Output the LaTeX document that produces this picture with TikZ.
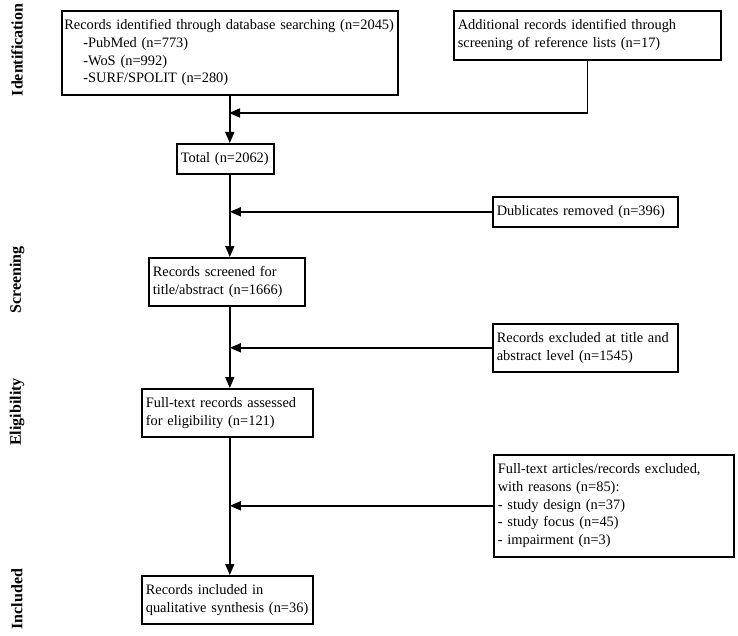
\documentclass[tikz,border=0pt]{standalone}
\usepackage{fontspec}
\setmainfont{Liberation Serif}
\usetikzlibrary{arrows.meta, positioning}

\begin{document}
\begin{tikzpicture}[x=1pt,y=-1pt,
  box/.style={draw,line width=1.6pt,anchor=north west,align=left,inner sep=4pt,font=\fontsize{14.4}{17.7}\selectfont},
  phase/.style={rotate=90,font=\fontsize{16}{18}\selectfont\bfseries},
  flow/.style={line width=1.6pt,-{Triangle[length=11pt,width=9pt]}}]
\useasboundingbox (0,0) rectangle (738,636);
\node[box,text width=331pt,inner xsep=2.5pt,minimum height=84pt] (db) at (61,10)
  {Records identified through database searching (n=2045)\\
   \hspace*{19pt}-PubMed (n=773)\\
   \hspace*{19pt}-WoS (n=992)\\
   \hspace*{19pt}-SURF/SPOLIT (n=280)};
\node[box,text width=259pt,minimum height=49pt] (add) at (453,10)
  {Additional records identified through\\ screening of reference lists (n=17)};
\node[box,text width=89pt,minimum height=30pt] (total) at (176,143) {Total (n=2062)};
\node[box,text width=177pt,minimum height=30pt] (dup) at (492,196) {Dublicates removed (n=396)};
\node[box,text width=148pt,minimum height=48pt] (scr) at (148,257)
  {Records screened for\\ title/abstract (n=1666)};
\node[box,text width=177pt,minimum height=48pt] (exc) at (492,323)
  {Records excluded at title and\\ abstract level (n=1545)};
\node[box,text width=163pt,minimum height=48pt] (ft) at (141,388)
  {Full-text records assessed\\ for eligibility (n=121)};
\node[box,text width=232pt,minimum height=102pt] (ftx) at (493,454)
  {Full-text articles/records excluded,\\ with reasons (n=85):\\ - study design (n=37)\\
   - study focus (n=45)\\ - impairment (n=3)};
\node[box,text width=163pt,minimum height=48pt] (inc) at (141,575)
  {Records included in\\ qualitative synthesis (n=36)};
\coordinate (merge) at (229,113);

\node[phase] (lid) at (17,50) {Identification};
\node[phase] (lscr) at (17,280) {Screening};
\node[phase] (lel) at (17,412) {Eligibility};
\node[phase] (linc) at (17,599) {Included};

\draw[flow] (db.south) -- (db.south |- total.north);
\draw[flow] (add.south) |- (merge);
\draw[flow] (db.south |- total.south) -- (db.south |- scr.north);
\draw[flow] (dup.west) -- (dup.west -| db.south);
\draw[flow] (db.south |- scr.south) -- (db.south |- ft.north);
\draw[flow] (exc.west) -- (exc.west -| db.south);
\draw[flow] (db.south |- ft.south) -- (db.south |- inc.north);
\draw[flow] (ftx.west) -- (ftx.west -| db.south);
\end{tikzpicture}
\end{document}
